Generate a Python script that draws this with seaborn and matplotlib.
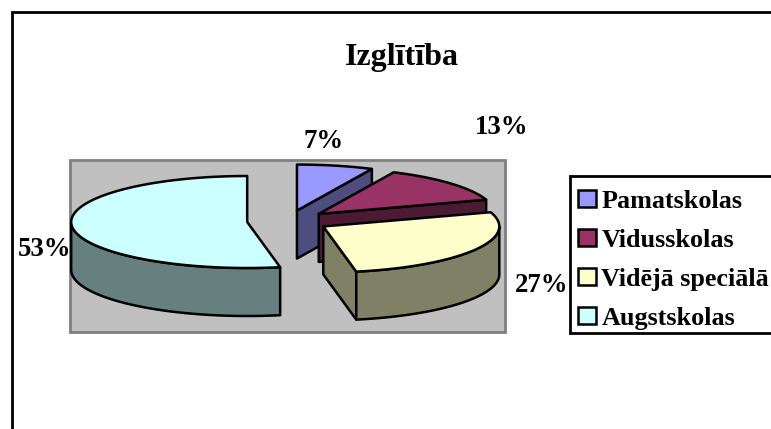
import numpy as np
import matplotlib.pyplot as plt
from matplotlib.patches import Patch, Rectangle
import seaborn as sns

title = "Izglītība"
categories = ["Pamatskolas", "Vidusskolas", "Vidējā speciālā", "Augstskolas"]
shares = [7, 13, 27, 53]
pie_colors = ["#9999FF", "#993366", "#FFFFCC", "#CCFFFF"]

sns.set_theme(style="white")
plt.rcParams["font.family"] = ["Liberation Serif", "DejaVu Serif"]
plt.rcParams["font.weight"] = "bold"
plt.rcParams["text.color"] = "black"

palette = sns.color_palette(pie_colors)

# pie geometry, in pixels of the picture
cx, cy = 288, 221
rx, ry = 176, 46
depth = 48
explode_x, explode_y = 41, 10.7
line = 1.8

fig = plt.figure(figsize=(7.71, 4.29), dpi=100)
ax = fig.add_axes([0, 0, 1, 1])
ax.set_xlim(0, 771)
ax.set_ylim(429, 0)
ax.axis("off")

# outer frame of the chart, only top and left are visible
ax.plot([11.5, 11.5, 771], [429, 11.5, 11.5], color="black", lw=2, solid_joinstyle="miter")

# grey plot area
ax.add_patch(Rectangle((70, 160), 435, 172, facecolor="#C0C0C0", edgecolor="#808080", lw=2))


def ell(x0, y0, t):
    return x0 + rx * np.sin(t), y0 - ry * np.cos(t)


def draw_slice(t0, t1, color):
    mid = (t0 + t1) / 2
    x0 = cx + explode_x * np.sin(mid)
    y0 = cy - explode_y * np.cos(mid)
    dark = tuple(c * 0.5 for c in color)

    # cut faces, only the ones turned to the viewer
    for t, visible in [(t0, -np.sin(t0) > 1e-6), (t1, np.sin(t1) > 1e-6)]:
        if visible:
            ex, ey = ell(x0, y0, t)
            ax.fill([x0, ex, ex, x0], [y0, ey, ey + depth, y0 + depth],
                    facecolor=dark, edgecolor="black", lw=line, joinstyle="round")

    # outer wall, front half of the ellipse
    a = max(t0, np.pi / 2)
    b = min(t1, 3 * np.pi / 2)
    if a < b:
        t = np.linspace(a, b, 80)
        wx, wy = ell(x0, y0, t)
        ax.fill(np.r_[wx, wx[::-1]], np.r_[wy, wy[::-1] + depth],
                facecolor=dark, edgecolor="black", lw=line, joinstyle="round")

    # top face
    t = np.linspace(t0, t1, 120)
    tx, ty = ell(x0, y0, t)
    ax.fill(np.r_[x0, tx], np.r_[y0, ty], facecolor=color, edgecolor="black", lw=line, joinstyle="round")


edges = np.cumsum([0] + shares) / sum(shares) * 2 * np.pi
for i in [3, 0, 1, 2]:
    draw_slice(edges[i], edges[i + 1], palette[i])

# percent labels
label_x = [324, 502, 542, 45]
label_y = [141.5, 128, 286, 250]
for s, x, y in zip(shares, label_x, label_y):
    ax.text(x, y, f"{s}%", fontsize=19.3, fontweight="bold", ha="center", va="center", color="black")

ax.text(402, 58, title, fontsize=23, fontweight="bold", ha="center", va="center", color="black")

# legend box runs past the right edge of the picture
ax.add_patch(Rectangle((570, 176), 220, 157, facecolor="white", edgecolor="black", lw=2, zorder=4))
handles = [Patch(facecolor=c, edgecolor="black", lw=1.8) for c in palette]
leg = ax.legend(handles, categories, loc="upper left", bbox_to_anchor=(570, 181.5),
                bbox_transform=ax.transData, borderaxespad=0,
                handlelength=0.66, handleheight=0.66, handletextpad=0.22,
                labelspacing=0.61, borderpad=0.32, frameon=False,
                prop={"family": "Liberation Serif", "weight": "bold", "size": 18.8})
for txt in leg.get_texts():
    txt.set_color("black")
leg.set_zorder(5)

plt.savefig("out.png", dpi=100)
